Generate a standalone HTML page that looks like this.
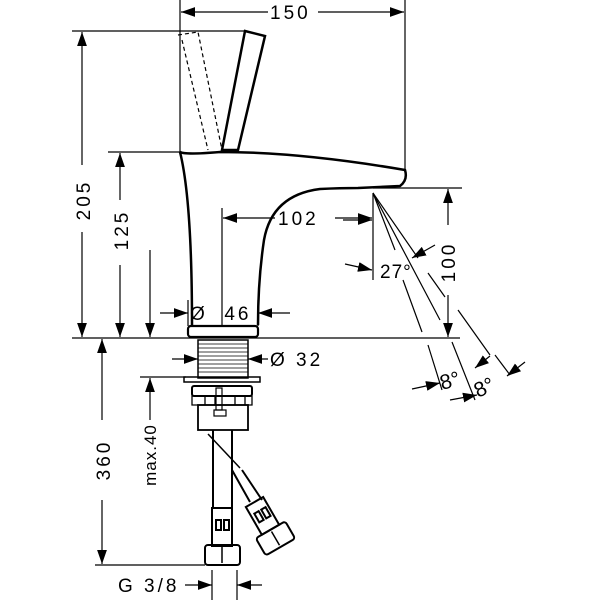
<!DOCTYPE html>
<html><head><style>body{margin:0;background:#fff}svg{display:block}</style></head><body>
<svg width="600" height="600" viewBox="0 0 600 600" xmlns="http://www.w3.org/2000/svg" font-family="Liberation Sans, sans-serif" font-size="19" fill="none" stroke="#000">
<defs>
<marker id="b" viewBox="0 0 10 10" refX="10" refY="5" markerWidth="14" markerHeight="14" markerUnits="userSpaceOnUse" orient="auto-start-reverse"><path d="M0,1.5 L10,5 L0,8.5z" fill="#000" stroke="none"/></marker>
</defs>
<g stroke-width="1.2">
<line x1="180" y1="0" x2="180" y2="152"/>
<line x1="405" y1="0" x2="405" y2="170"/>
<line x1="72" y1="31" x2="245" y2="31"/>
<line x1="108" y1="152" x2="180" y2="152"/>
<line x1="72" y1="338" x2="460" y2="338"/>
<line x1="373" y1="188" x2="462" y2="188"/>
<line x1="95" y1="565" x2="205" y2="565"/>
<line x1="140" y1="377" x2="186" y2="377"/>
<line x1="181" y1="12" x2="268" y2="12" marker-start="url(#b)"/>
<line x1="318" y1="12" x2="404" y2="12" marker-end="url(#b)"/>
<line x1="82" y1="32" x2="82" y2="165" marker-start="url(#b)"/>
<line x1="82" y1="232" x2="82" y2="337" marker-end="url(#b)"/>
<line x1="120" y1="153" x2="120" y2="200" marker-start="url(#b)"/>
<line x1="120" y1="265" x2="120" y2="337" marker-end="url(#b)"/>
<line x1="150" y1="250" x2="150" y2="337" marker-end="url(#b)"/>
<line x1="222" y1="208" x2="222" y2="330"/>
<line x1="223" y1="218" x2="275" y2="218" marker-start="url(#b)"/>
<line x1="335" y1="218" x2="372" y2="218" marker-end="url(#b)"/>
<line x1="160" y1="313" x2="188" y2="313" marker-end="url(#b)"/>
<line x1="290" y1="313" x2="258" y2="313" marker-end="url(#b)"/>
<line x1="188" y1="300" x2="188" y2="326"/><line x1="258" y1="300" x2="258" y2="326"/>
<line x1="172" y1="359" x2="198" y2="359" marker-end="url(#b)"/>
<line x1="268" y1="359" x2="248" y2="359" marker-end="url(#b)"/>
<line x1="102" y1="339" x2="102" y2="420" marker-start="url(#b)"/>
<line x1="102" y1="500" x2="102" y2="564" marker-end="url(#b)"/>
<line x1="150" y1="378" x2="150" y2="420" marker-start="url(#b)"/>
<line x1="212" y1="570" x2="212" y2="600"/><line x1="237" y1="570" x2="237" y2="600"/>
<line x1="185" y1="585" x2="212" y2="585" marker-end="url(#b)"/>
<line x1="262" y1="585" x2="237" y2="585" marker-end="url(#b)"/>
<line x1="448" y1="189" x2="448" y2="225" marker-start="url(#b)"/>
<line x1="448" y1="295" x2="448" y2="337" marker-end="url(#b)"/>
<line x1="373" y1="193" x2="373" y2="280"/>
<line x1="373" y1="193" x2="395" y2="250"/>
<line x1="403" y1="280" x2="422" y2="332"/>
<line x1="428" y1="345" x2="442" y2="390"/>
<line x1="373" y1="193" x2="440" y2="320"/>
<line x1="452" y1="342" x2="475" y2="400"/>
<line x1="373" y1="193" x2="418" y2="258"/>
<line x1="428" y1="273" x2="445" y2="297"/>
<line x1="458" y1="310" x2="490" y2="355"/>
<line x1="495" y1="355" x2="510" y2="375"/>
<line x1="343" y1="220" x2="372" y2="220" marker-end="url(#b)"/>
<line x1="345" y1="264" x2="372" y2="270" marker-end="url(#b)"/>
<line x1="435" y1="245" x2="412" y2="258" marker-end="url(#b)"/>
<line x1="412" y1="389" x2="440" y2="383" marker-end="url(#b)"/>
<line x1="450" y1="400" x2="477" y2="395" marker-end="url(#b)"/>
<line x1="490" y1="356" x2="475" y2="368" marker-end="url(#b)"/>
<line x1="525" y1="362" x2="507" y2="376" marker-end="url(#b)"/>
</g>
<path d="M245,31 L265,36 L238,150 L222,150 Z" stroke-width="2.5" fill="#fff"/>
<path d="M178,35 L198,32 L222,150 M182,40 L208,150" stroke-width="1.2" stroke-dasharray="4,3"/>
<path d="M180,152 Q185,155 220,152 Q300,152 405,170 Q408,180 400,186 L358,188 Q340,188 320,189 Q272,195 264,240 Q258,280 258,325 M180,152 Q192,200 192,325" stroke-width="2.5"/>
<rect x="188" y="326" width="70" height="11" rx="3" stroke-width="2.2" fill="#fff"/>
<rect x="198" y="340" width="50" height="38" stroke-width="1.5"/>
<g stroke-width="0.7"><path d="M198,344H248M198,348H248M198,352H248M198,356H248M198,360H248M198,364H248M198,368H248M198,372H248"/></g>
<rect x="184" y="377" width="76" height="5" stroke-width="1.5"/>
<rect x="192" y="386" width="60" height="10" rx="2" stroke-width="2"/>
<path d="M192,396 H252 V405 H192 Z M205,396V405 M215,396V405 M235,396V405 M245,396V405" stroke-width="1.3"/>
<rect x="198" y="405" width="50" height="25" stroke-width="1.8"/>
<rect x="216" y="388" width="6" height="22" stroke-width="1.2"/>
<rect x="214" y="410" width="12" height="6" stroke-width="1.2"/>
<path d="M213,430 V508 M232,430 V508" stroke-width="2"/>
<path d="M208,434 L240,468" stroke-width="1.5"/>
<path d="M232,470 L250,502 M242,470 L262,500" stroke-width="2"/>
<path d="M212,508 h20 v38 h-20 z M216,520 h5 v10 h-5z M224,520 h5 v10 h-5z" stroke-width="2"/>
<rect x="205" y="545" width="35" height="20" rx="3" stroke-width="2"/>
<path d="M222,547 V563" stroke-width="1.5"/>
<g transform="translate(262,515) rotate(-30)">
<path d="M-10,-15 h20 v32 h-20z M-6,-5 h5 v10 h-5z M2,-5 h5 v10 h-5z" stroke-width="2"/>
<rect x="-17" y="17" width="34" height="20" rx="3" stroke-width="2"/>
<path d="M0,19 V35" stroke-width="1.5"/>
</g>
<g fill="#000" stroke="none" letter-spacing="3">
<text x="270" y="19">150</text>
<text x="278" y="225">102</text>
<text x="190" y="320" xml:space="preserve">Ø  46</text>
<text x="270" y="366" xml:space="preserve">Ø 32</text>
<text x="118" y="592">G 3/8</text>
<text transform="translate(90,200) rotate(-90)" text-anchor="middle">205</text>
<text transform="translate(128,230) rotate(-90)" text-anchor="middle">125</text>
<text transform="translate(110,460) rotate(-90)" text-anchor="middle">360</text>
<text transform="translate(156,455) rotate(-90)" text-anchor="middle" font-size="17" letter-spacing="1">max.40</text>
<text transform="translate(455,262) rotate(-90)" text-anchor="middle">100</text>
<text x="380" y="278" letter-spacing="1">27°</text>
<text transform="translate(442,390) rotate(-15)" font-size="21" letter-spacing="0">8°</text>
<text transform="translate(478,398) rotate(-25)" font-size="21" letter-spacing="0">8°</text>
</g>
</svg>
</body></html>
